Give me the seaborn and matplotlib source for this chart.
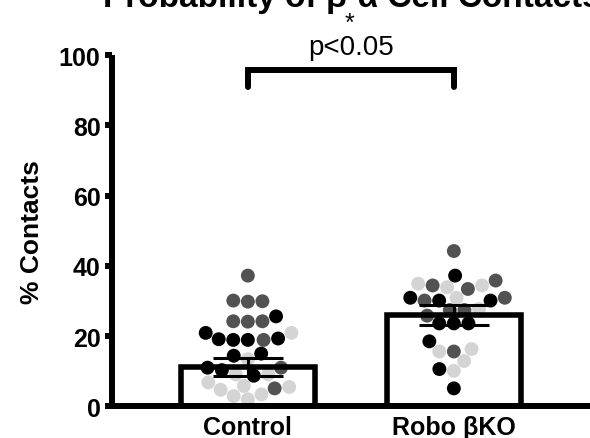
import numpy as np
import pandas as pd
import matplotlib
matplotlib.use("Agg")
import matplotlib.pyplot as plt
import seaborn as sns

# data
groups = ["Control", "Robo βKO"]

control_pct = [24.1, 18.9, 13.4, 8.7, 3.4,
               19.3, 15.0, 11.0, 5.8,
               29.8, 25.6, 20.9, 9.1, 4.7,
               37.2, 30.1, 20.9, 14.4, 10.3, 5.5,
               29.9, 24.2, 19.1, 6.8, 2.0,
               18.9, 9.1, 5.1,
               24.2, 18.9, 11.0, 2.9]
control_shade = ["dark", "dark", "light", "black", "light",
                 "black", "black", "black", "light",
                 "dark", "black", "light", "light", "light",
                 "dark", "dark", "black", "black", "black", "light",
                 "dark", "dark", "black", "light", "light",
                 "black", "light", "dark",
                 "dark", "black", "dark", "light"]

robo_pct = [44.2, 37.2, 35.8, 33.9, 34.9, 33.4, 34.4, 34.4,
            30.9, 30.1, 30.9, 30.9, 30.1, 30.1,
            27.4, 27.7, 27.4, 25.8,
            23.6, 23.6, 23.6, 18.5,
            15.6, 16.3, 15.6, 12.9, 10.6, 10.1, 5.1]
robo_shade = ["dark", "black", "dark", "light", "light", "dark", "light", "dark",
              "dark", "dark", "light", "black", "black", "black",
              "dark", "light", "dark", "dark",
              "black", "black", "black", "black",
              "light", "light", "dark", "light", "black", "light", "black"]

bar_mean = [11.2, 26.0]
bar_sem = [2.6, 2.85]

shade_colors = {"black": "#000000", "dark": "#525252", "light": "#d4d4d4"}

points = pd.DataFrame({
    "group": ["Control"] * len(control_pct) + ["Robo βKO"] * len(robo_pct),
    "pct": control_pct + robo_pct,
    "shade": control_shade + robo_shade,
})
summary = pd.DataFrame({"group": groups, "mean": bar_mean})

sns.set_style("ticks")
plt.rcParams["font.family"] = ["Liberation Sans", "DejaVu Sans"]
for key in ["text.color", "axes.labelcolor", "axes.edgecolor", "xtick.color", "ytick.color"]:
    plt.rcParams[key] = "black"

fig = plt.figure(figsize=(5.9, 4.39), dpi=100)
ax = fig.add_axes([0.1893, 0.0722, 0.8107, 0.8002])

# white bar fill behind the dots
sns.barplot(data=summary, x="group", y="mean", order=groups, color="white",
            width=0.648, linewidth=0, ax=ax, zorder=1)
sns.swarmplot(data=points, x="group", y="pct", order=groups, hue="shade",
              palette=shade_colors, size=10, linewidth=0, legend=False,
              ax=ax, zorder=2)
# bar outlines on top of the dots
sns.barplot(data=summary, x="group", y="mean", order=groups, fill=False,
            color="black", edgecolor="black", width=0.648, linewidth=4.0,
            ax=ax, zorder=3)
ax.errorbar(x=[0, 1], y=bar_mean, yerr=bar_sem, fmt="none", ecolor="black",
            elinewidth=2.2, capsize=25, capthick=2.2, zorder=4)

# significance bracket
ax.plot([0, 0, 1, 1], [90.9, 95.7, 95.7, 90.9], color="black", lw=4.3,
        solid_capstyle="round", solid_joinstyle="miter", clip_on=False, zorder=5)
ax.text(0.5, 100.3, "p<0.05", ha="center", va="baseline", fontsize=20)
fig.text(0.593, 0.930, "*", ha="center", va="baseline", fontsize=18)
fig.text(0.597, 0.984, "Probability of β-α Cell Contacts", ha="center",
         va="baseline", fontsize=24, fontweight="bold")

ax.set_xlim(-0.661, 1.661)
ax.set_ylim(0, 100)
ax.set_yticks([0, 20, 40, 60, 80, 100])
ax.set_xlabel("")
ax.set_ylabel("% Contacts", fontsize=19, fontweight="bold", labelpad=11)
ax.tick_params(axis="y", length=5, width=4.3, pad=3, labelsize=18)
ax.tick_params(axis="x", length=0, pad=6, labelsize=18)
for lab in ax.get_xticklabels() + ax.get_yticklabels():
    lab.set_fontweight("bold")
for side in ["left", "bottom"]:
    ax.spines[side].set_linewidth(4.3)
    ax.spines[side].set_capstyle("butt")
sns.despine(ax=ax)

fig.savefig("out.png", dpi=100)
